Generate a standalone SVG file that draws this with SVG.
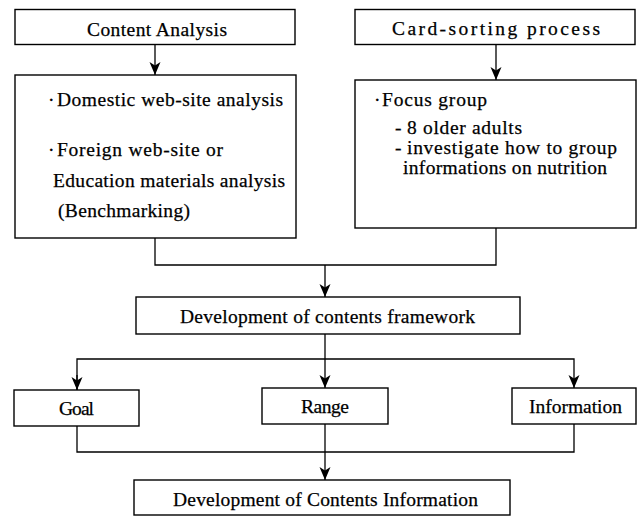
<svg xmlns="http://www.w3.org/2000/svg" width="643" height="517" viewBox="0 0 643 517">
<style>
.box{fill:#fff;stroke:#000;stroke-width:1.4}
.ln{fill:none;stroke:#000;stroke-width:1.3}
text{font-family:"Liberation Serif","Times New Roman",serif;font-size:19.5px;fill:#000;stroke:#000;stroke-width:0.25}
</style>
<defs>
<marker id="ah" markerUnits="userSpaceOnUse" markerWidth="14" markerHeight="14" viewBox="0 0 14 14" refX="13" refY="7" orient="auto">
<path d="M0,1.5 L13,7 L0,12.5 L3.5,7 z" fill="#000"/>
</marker>
</defs>
<rect width="643" height="517" fill="#fff"/>
<g id="connectors">
<line class="ln" x1="155" y1="45" x2="155" y2="75" marker-end="url(#ah)"/>
<line class="ln" x1="496" y1="44" x2="496" y2="80" marker-end="url(#ah)"/>
<polyline class="ln" points="155,238 155,265 496,265 496,228"/>
<line class="ln" x1="325" y1="265" x2="325" y2="297" marker-end="url(#ah)"/>
<line class="ln" x1="325" y1="334" x2="325" y2="388" marker-end="url(#ah)"/>
<polyline class="ln" points="77,390 77,359 574,359 574,388" marker-end="url(#ah)"/>
<line class="ln" x1="77" y1="375" x2="77" y2="390" marker-end="url(#ah)"/>
<polyline class="ln" points="77,426 77,452 574,452 574,424"/>
<line class="ln" x1="325" y1="424" x2="325" y2="480" marker-end="url(#ah)"/>
</g>
<g id="content-analysis">
<rect class="box" x="15" y="9.5" width="280" height="35"/>
<text x="87" y="36" textLength="140" lengthAdjust="spacing">Content Analysis</text>
</g>
<g id="card-sorting">
<rect class="box" x="355" y="9.5" width="280" height="35"/>
<text x="392" y="35" textLength="208" lengthAdjust="spacing">Card-sorting process</text>
</g>
<g id="analysis-detail">
<rect class="box" x="15" y="75" width="281" height="163"/>
<text x="48" y="106">·</text>
<text x="57" y="106" textLength="226" lengthAdjust="spacing">Domestic web-site analysis</text>
<text x="48" y="156">·</text>
<text x="57" y="156" textLength="166" lengthAdjust="spacing">Foreign web-site or</text>
<text x="53" y="187" textLength="232" lengthAdjust="spacing">Education materials analysis</text>
<text x="58" y="217" textLength="132" lengthAdjust="spacing">(Benchmarking)</text>
</g>
<g id="focus-group">
<rect class="box" x="355" y="80" width="281" height="148"/>
<text x="374" y="106">·</text>
<text x="382" y="106" textLength="105" lengthAdjust="spacing">Focus group</text>
<text x="395" y="134">-</text>
<text x="407" y="134" textLength="115" lengthAdjust="spacing">8 older adults</text>
<text x="395" y="154">-</text>
<text x="407" y="154" textLength="210" lengthAdjust="spacing">investigate how to group</text>
<text x="403" y="174" textLength="204" lengthAdjust="spacing">informations on nutrition</text>
</g>
<g id="framework">
<rect class="box" x="136" y="297" width="384" height="37"/>
<text x="180" y="323" textLength="295" lengthAdjust="spacing">Development of contents framework</text>
</g>
<g id="goal">
<rect class="box" x="14" y="390" width="125" height="36"/>
<text x="59" y="415" textLength="35" lengthAdjust="spacing">Goal</text>
</g>
<g id="range">
<rect class="box" x="262" y="388" width="126" height="36"/>
<text x="301" y="413" textLength="48" lengthAdjust="spacing">Range</text>
</g>
<g id="information">
<rect class="box" x="512" y="388" width="124" height="36"/>
<text x="529" y="413" textLength="93" lengthAdjust="spacing">Information</text>
</g>
<g id="contents-information">
<rect class="box" x="134" y="480" width="376" height="35"/>
<text x="173" y="506" textLength="305" lengthAdjust="spacing">Development of Contents Information</text>
</g>
</svg>
